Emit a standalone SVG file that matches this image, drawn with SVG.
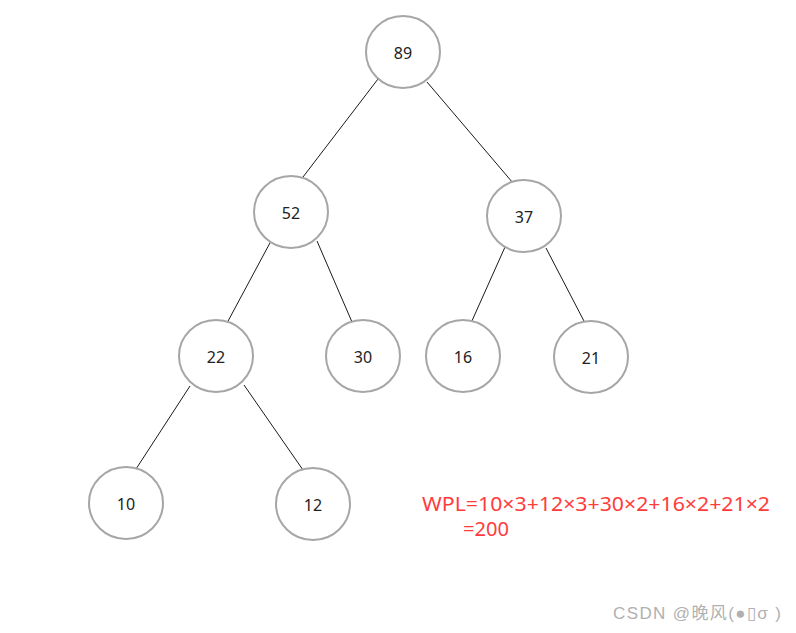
<svg xmlns="http://www.w3.org/2000/svg" width="796" height="633" viewBox="0 0 796 633">
<style>
.n ellipse{fill:#fff;stroke:#a6a6a6;stroke-width:2}
.n text{font-family:"Noto Sans","Liberation Sans",sans-serif;font-size:16px;fill:#222;text-anchor:middle;dominant-baseline:central}
.e line{stroke:#1a1a1a;stroke-width:1}
.f{font-family:"Noto Sans","Liberation Sans",sans-serif;font-size:19px;fill:#ff3b3b}
.w{font-family:"Liberation Sans","Noto Sans CJK SC",sans-serif;font-size:17px;fill:#b0b0b0}
</style>
<rect width="796" height="633" fill="#fff"/>
<g id="edges" class="e">
<line x1="378" y1="79" x2="303" y2="177"/>
<line x1="427" y1="82" x2="513" y2="183"/>
<line x1="271" y1="241" x2="227" y2="323"/>
<line x1="317" y1="241" x2="352" y2="322"/>
<line x1="505" y1="247" x2="471" y2="323"/>
<line x1="546" y1="248" x2="585" y2="323"/>
<line x1="190" y1="386" x2="136" y2="469"/>
<line x1="244" y1="385" x2="303" y2="470"/>
</g>
<g id="n89" class="n"><ellipse cx="403" cy="52" rx="37" ry="36"/><text x="403" y="53">89</text></g>
<g id="n52" class="n"><ellipse cx="291" cy="212" rx="37" ry="36"/><text x="291" y="213">52</text></g>
<g id="n37" class="n"><ellipse cx="524" cy="216" rx="37" ry="36"/><text x="524" y="217">37</text></g>
<g id="n22" class="n"><ellipse cx="216" cy="356" rx="37" ry="36"/><text x="216" y="357">22</text></g>
<g id="n30" class="n"><ellipse cx="363" cy="356" rx="37" ry="36"/><text x="363" y="357">30</text></g>
<g id="n16" class="n"><ellipse cx="463" cy="356" rx="37" ry="36"/><text x="463" y="357">16</text></g>
<g id="n21" class="n"><ellipse cx="591" cy="357" rx="37" ry="36"/><text x="591" y="358">21</text></g>
<g id="n10" class="n"><ellipse cx="126" cy="503" rx="37" ry="36"/><text x="126" y="504">10</text></g>
<g id="n12" class="n"><ellipse cx="313" cy="504" rx="37" ry="36"/><text x="313" y="505">12</text></g>
<text class="f" x="422" y="511" textLength="348" lengthAdjust="spacingAndGlyphs">WPL=10×3+12×3+30×2+16×2+21×2</text>
<text class="f" x="463" y="536" textLength="46" lengthAdjust="spacingAndGlyphs">=200</text>
<text class="w" x="613" y="619" textLength="168" lengthAdjust="spacing">CSDN @晚风(●▯σ )</text>
</svg>
